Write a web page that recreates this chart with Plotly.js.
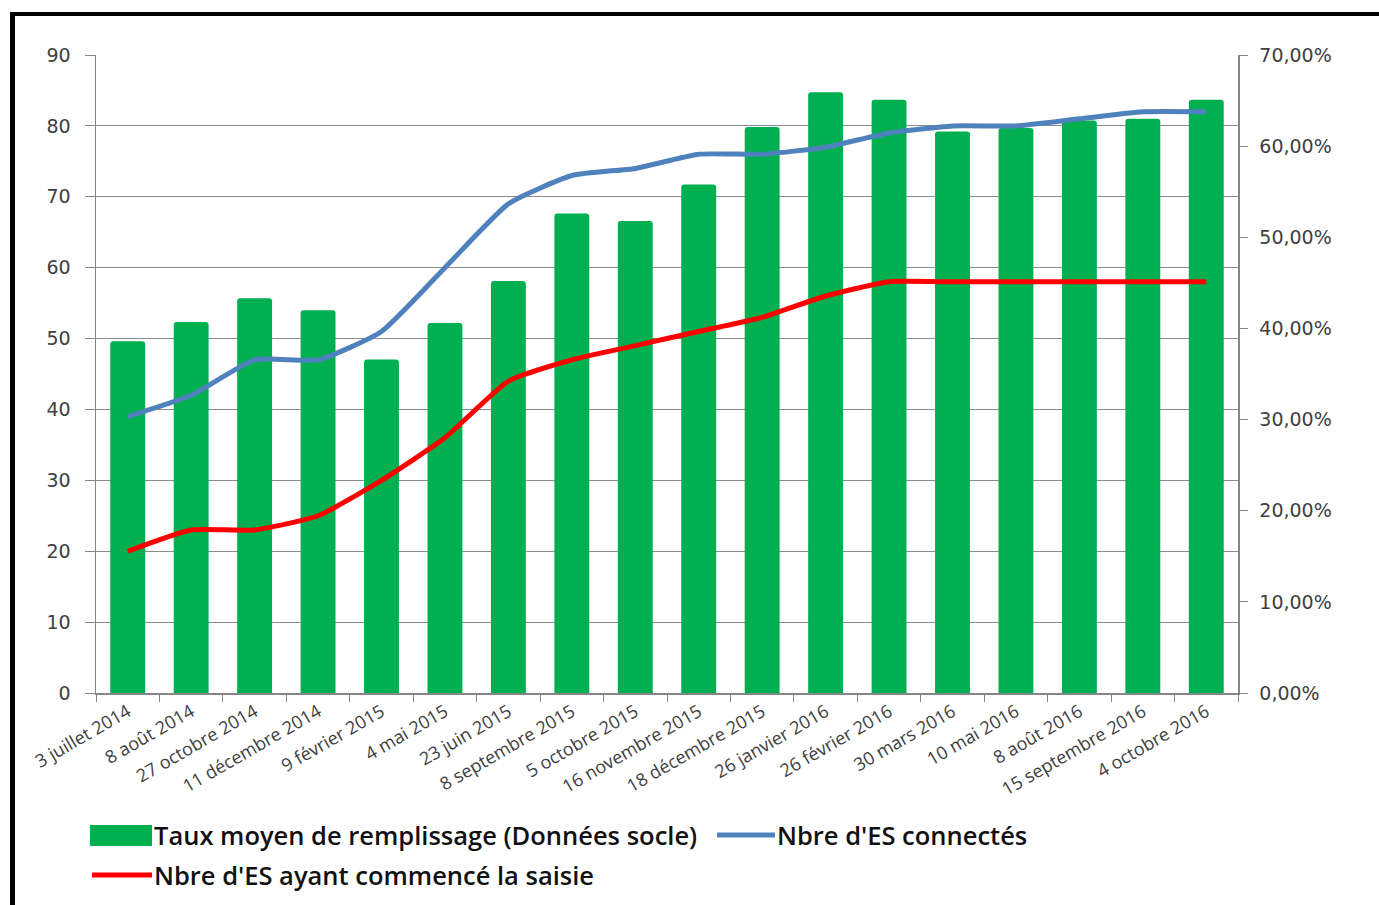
<!DOCTYPE html>
<html>
<head>
<meta charset="utf-8">
<script src="https://cdn.plot.ly/plotly-3.0.1.min.js"></script>
<style>
html,body{margin:0;padding:0;background:#fff;overflow:hidden;}
#chart{width:1379px;height:905px;}
#frame{position:absolute;left:10px;top:12px;width:2000px;height:2000px;border-top:4px solid #000;border-left:5px solid #000;pointer-events:none;}
</style>
</head>
<body>
<div id="chart"></div>
<div id="frame"></div>
<script>
const categories = ["3 juillet 2014","8 août 2014","27 octobre 2014","11 décembre 2014","9 février 2015","4 mai 2015","23 juin 2015","8 septembre 2015","5 octobre 2015","16 novembre 2015","18 décembre 2015","26 janvier 2016","26 février 2016","30 mars 2016","10 mai 2016","8 août 2016","15 septembre 2016","4 octobre 2016"];
const tauxRemplissage = [0.386,0.407,0.433,0.420,0.366,0.406,0.452,0.526,0.518,0.558,0.621,0.659,0.651,0.616,0.620,0.628,0.630,0.651];
const esConnectes = [39,42,47,47,51,60,69,73,74,76,76,77,79,80,80,81,82,82];
const esSaisie = [20,23,23,25,30,36,44,47,49,51,53,56,58,58,58,58,58,58];
const seriesNames = ["Taux moyen de remplissage (Données socle)", "Nbre d'ES connectés", "Nbre d'ES ayant commencé la saisie"];
const colors = {bar:'#00B050', blue:'#4F81BD', red:'#FF0000'};

const traces = [
  {type:'bar', name:seriesNames[0], x:categories, y:tauxRemplissage, yaxis:'y',
   marker:{color:colors.bar}, hoverinfo:'x+y'},
  {type:'scatter', mode:'lines', name:seriesNames[1], x:categories, y:esConnectes, yaxis:'y2',
   line:{color:colors.blue, width:5, shape:'spline', smoothing:0.5}},
  {type:'scatter', mode:'lines', name:seriesNames[2], x:categories, y:esSaisie, yaxis:'y2',
   line:{color:colors.red, width:5, shape:'spline', smoothing:0.5}}
];

// plot area in pixels (for the hand-drawn legend)
const PL = 96, PR = 1238, PT = 55, PB = 693;
const px = v => (v - PL) / (PR - PL);
const py = v => (PB - v) / (PB - PT);
const legFont = {family:'Open Sans, sans-serif', size:25.5, color:'#111', weight:600};

const shapes = [
  {type:'rect', xref:'paper', yref:'paper', x0:px(90), x1:px(152), y0:py(846), y1:py(825),
   fillcolor:colors.bar, line:{width:0}},
  {type:'line', xref:'paper', yref:'paper', x0:px(717), x1:px(775), y0:py(835), y1:py(835),
   line:{color:colors.blue, width:5}},
  {type:'line', xref:'paper', yref:'paper', x0:px(92), x1:px(152), y0:py(875), y1:py(875),
   line:{color:colors.red, width:5}}
];
const annotations = [
  {xref:'paper', yref:'paper', x:px(152), y:py(835), xanchor:'left', yanchor:'middle', text:seriesNames[0], showarrow:false, font:legFont},
  {xref:'paper', yref:'paper', x:px(775), y:py(835), xanchor:'left', yanchor:'middle', text:seriesNames[1], showarrow:false, font:legFont},
  {xref:'paper', yref:'paper', x:px(152), y:py(875), xanchor:'left', yanchor:'middle', text:seriesNames[2], showarrow:false, font:legFont}
];

const layout = {
  width:1379, height:905,
  margin:{l:PL, r:1379-PR, t:PT, b:905-PB},
  paper_bgcolor:'#fff', plot_bgcolor:'#fff',
  separators:', ',
  showlegend:false,
  bargap:0.45,
  barcornerradius:3,
  font:{family:'DejaVu Sans, Verdana, sans-serif', color:'#404040'},
  xaxis:{
    type:'category', tickangle:-30, tickson:'boundaries', ticks:'outside', ticklen:7, tickcolor:'#868686',
    showline:true, linecolor:'#868686', linewidth:1.5, showgrid:false,
    tickfont:{family:'Open Sans, sans-serif', size:18, color:'#404040'}
  },
  yaxis:{
    side:'right', range:[0,0.7], dtick:0.1, tickformat:'.2%', showgrid:false, zeroline:false,
    showline:true, linecolor:'#868686', linewidth:1.5, ticks:'outside', ticklen:8, tickcolor:'#868686',
    ticklabelstandoff:8,
    tickfont:{family:'DejaVu Sans, Verdana, sans-serif', size:19, color:'#404040'}
  },
  yaxis2:{
    overlaying:'y', side:'left', range:[0,90], dtick:10, showgrid:true, gridcolor:'#8c8c8c', gridwidth:1.2,
    zeroline:false, showline:true, linecolor:'#868686', linewidth:1.5, ticks:'outside', ticklen:10, tickcolor:'#868686',
    ticklabelstandoff:10,
    tickfont:{family:'DejaVu Sans, Verdana, sans-serif', size:19, color:'#404040'}
  },
  shapes:shapes,
  annotations:annotations
};

Plotly.newPlot('chart', traces, layout, {displayModeBar:false, staticPlot:true});
</script>
</body>
</html>
